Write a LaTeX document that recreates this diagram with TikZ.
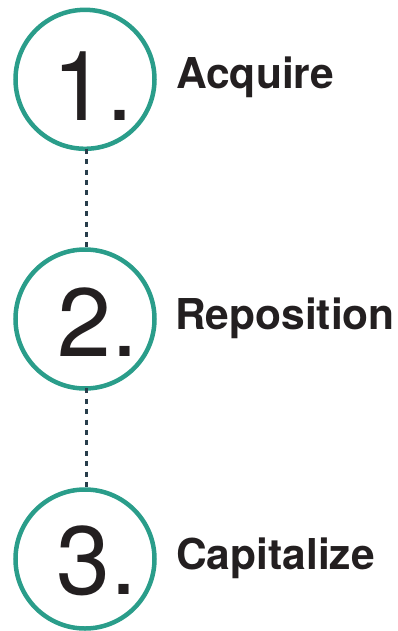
\documentclass[tikz,border=0pt]{standalone}
\usepackage{fontspec}
\setmainfont{TeX Gyre Heros}
\definecolor{teal}{RGB}{42,157,138}
\definecolor{ink}{RGB}{35,31,32}
\definecolor{slate}{RGB}{40,62,75}
\begin{document}
\begin{tikzpicture}[x=1pt,y=-1pt,
  ring/.style={draw=teal,line width=4.5pt,circle,minimum size=139pt,inner sep=0pt},
  num/.style={anchor=base west,inner sep=0pt,text=ink,font=\fontsize{97}{97}\selectfont},
  lbl/.style={anchor=base west,inner sep=0pt,text=ink,font=\fontsize{42.5}{42.5}\selectfont\bfseries},
  link/.style={draw=slate,line width=3pt,dash pattern=on 5pt off 5.4pt}]
\useasboundingbox (0,0) rectangle (398,631);
\node[ring] (c1) at (85,79.3) {};
\node[ring] (c2) at (85,319) {};
\node[ring] (c3) at (85,559) {};
\node[num] (n1) at (52.5,121) {1.};
\node[num] (n2) at (57.5,356) {2.};
\node[num] (n3) at (56.7,594) {3.};
\node[lbl] (t1) at (176,89) {Acquire};
\node[lbl] (t2) at (175,329) {Reposition};
\node[lbl] (t3) at (176,569) {Capitalize};
\draw[link] ([xshift=1.7pt,yshift=2.3pt]c1.south) -- ([xshift=1.7pt,yshift=-2.3pt]c2.north);
\draw[link] ([xshift=1.7pt,yshift=2.3pt]c2.south) -- ([xshift=1.7pt,yshift=-2.3pt]c3.north);
\end{tikzpicture}
\end{document}
